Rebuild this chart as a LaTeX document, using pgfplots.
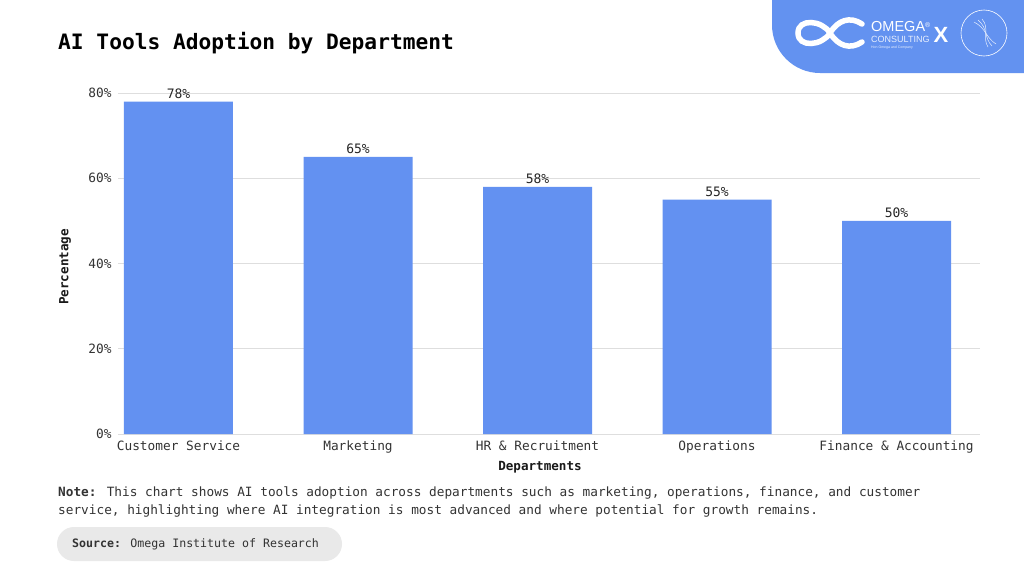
\documentclass[border=0pt]{standalone}
\usepackage{pgfplots}
\pgfplotsset{compat=1.18}
\usepackage{fontspec}
\setmainfont{DejaVu Sans Mono}
\newfontfamily\logofont{Liberation Sans}
\definecolor{barblue}{HTML}{6391F1}
\definecolor{logoblue}{HTML}{6392F0}
\definecolor{txt}{HTML}{333333}
\definecolor{pill}{HTML}{E9E9E9}
\begin{document}
\begin{tikzpicture}
\path[use as bounding box] (0,0) rectangle (1024pt,-576pt);
\fill[white] (0,0) rectangle (1024pt,-576pt);
% logo banner
\begin{scope}
\clip (0,0) rectangle (1024pt,-576pt);
\fill[logoblue, rounded corners=48pt] (772pt,60pt) -- (772pt,-73pt) -- (1100pt,-73pt) -- (1100pt,60pt) -- cycle;
\end{scope}
\draw[white, line width=5.5pt, line cap=round]
  (862pt,-24pt) .. controls (850pt,-16pt) and (838pt,-20pt) .. (830pt,-33pt)
  .. controls (822pt,-46pt) and (798pt,-48pt) .. (798pt,-33pt)
  .. controls (798pt,-18pt) and (822pt,-20pt) .. (830pt,-33pt)
  .. controls (838pt,-46pt) and (850pt,-50pt) .. (862pt,-42pt);
\node[anchor=west, inner sep=0pt, text=white] at (871pt,-27pt) {\logofont\fontsize{14.5}{14.5}\selectfont OMEGA\raisebox{4pt}{\fontsize{7}{7}\selectfont\textregistered}};
\node[anchor=west, inner sep=0pt, text=white!85!logoblue] at (871pt,-39pt) {\logofont\fontsize{9}{9}\selectfont CONSULTING};
\node[anchor=west, inner sep=0pt, text=white!85!logoblue] at (871pt,-48pt) {\logofont\fontsize{3.5}{3.5}\selectfont Hon Omega and Company};
\node[inner sep=0pt, text=white] at (941pt,-35pt) {\logofont\bfseries\fontsize{22}{22}\selectfont X};
\draw[white, line width=0.6pt] (984pt,-33pt) circle (23pt);
\draw[white!85!logoblue, line width=0.5pt] (974pt,-22pt) .. controls (986pt,-28pt) and (986pt,-38pt) .. (996pt,-44pt);
\draw[white!85!logoblue, line width=0.5pt] (978pt,-20pt) .. controls (988pt,-28pt) and (984pt,-38pt) .. (992pt,-46pt);
\draw[white!85!logoblue, line width=0.5pt] (982pt,-19pt) .. controls (990pt,-28pt) and (982pt,-38pt) .. (988pt,-47pt);
% title
\node[anchor=west, inner sep=0pt] at (58pt,-43pt) {\bfseries\fontsize{21.2}{21.2}\selectfont AI Tools Adoption by Department};
\begin{axis}[
  at={(118pt,-434pt)}, anchor=south west,
  width=862pt, height=341pt, scale only axis,
  xmin=-0.337, xmax=4.465, ymin=0, ymax=80,
  axis line style={draw=none},
  /pgf/number format/assume math mode=true,
  ytick={0,20,40,60,80},
  yticklabel={\pgfmathprintnumber{\tick}\%},
  xtick={0,1,2,3,4},
  xticklabels={Customer Service, Marketing, HR \& Recruitment, Operations, Finance \& Accounting},
  major tick length=0pt, tick style={draw=none},
  ymajorgrids, grid style={draw=black!13, line width=0.7pt},
  ticklabel style={font=\fontsize{12.8}{12.8}\selectfont, text=txt},
  yticklabel style={xshift=-3pt},
  xticklabel style={yshift=-3.5pt},
  xlabel={\bfseries Departments},
  ylabel={\bfseries Percentage},
  label style={font=\fontsize{12.6}{12.6}\selectfont, text=black!90},
  xlabel style={at={(axis description cs:0.4896,-0.0975)}, anchor=center},
  ylabel style={at={(axis description cs:-0.0615,0.49)}, anchor=center, rotate=0},
  clip=false,
]
\addplot[ybar, bar width=109pt, fill=barblue, draw=none,
  nodes near coords={\pgfmathprintnumber{\pgfplotspointmeta}\%},
  every node near coord/.style={font=\fontsize{13}{13}\selectfont, text=black!85, inner sep=3pt}]
  coordinates {(0,78) (1,65) (2,58) (3,55) (4,50)};
\end{axis}
% note
\node[anchor=west, inner sep=0pt, text=txt] at (58pt,-493pt) {\fontsize{12.75}{12.75}\selectfont \textbf{Note:} This chart shows AI tools adoption across departments such as marketing, operations, finance, and customer};
\node[anchor=west, inner sep=0pt, text=txt] at (58pt,-511pt) {\fontsize{12.75}{12.75}\selectfont service, highlighting where AI integration is most advanced and where potential for growth remains.};
% source pill
\fill[pill, rounded corners=17pt] (57pt,-527pt) rectangle (342pt,-561pt);
\node[anchor=west, inner sep=0pt, text=txt] at (72pt,-544pt) {\fontsize{11.6}{11.6}\selectfont \textbf{Source:} Omega Institute of Research};
\end{tikzpicture}
\end{document}
